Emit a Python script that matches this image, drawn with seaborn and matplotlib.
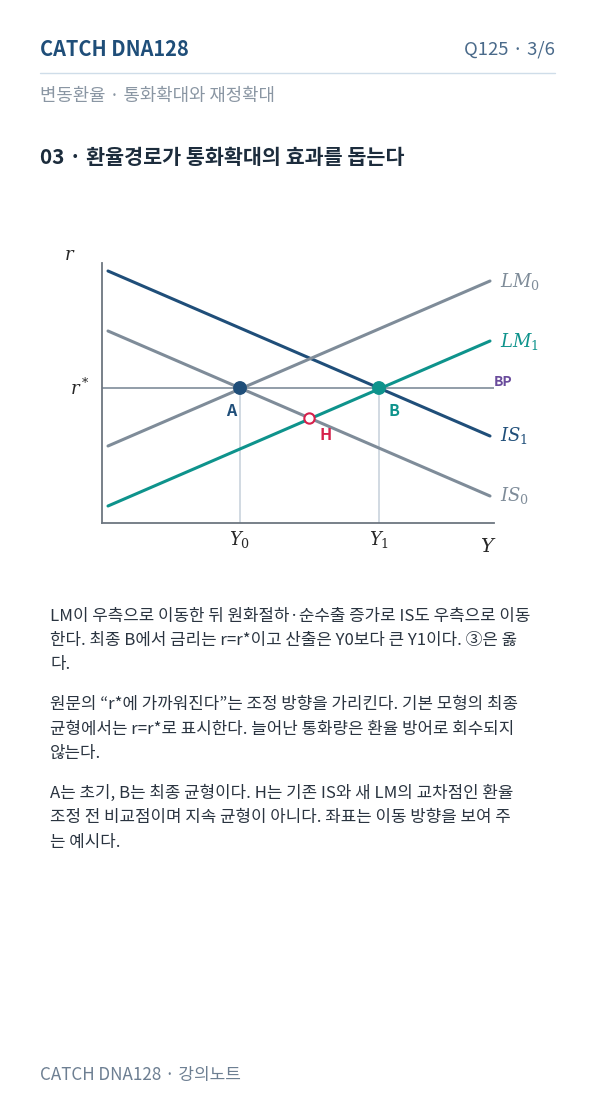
import matplotlib
matplotlib.use("Agg")
import matplotlib.pyplot as plt
import seaborn as sns
import pandas as pd

sns.set_style("white")
plt.rcParams['font.family'] = ['Noto Sans CJK KR', 'DejaVu Sans']
plt.rcParams['mathtext.fontset'] = 'dejavuserif'

# curve endpoints (Y, r) in diagram units
curve_names = ["IS1", "LM0", "IS0", "LM1"]
curve_y = [[6, 388], [6, 388], [6, 388], [6, 388]]
curve_r = [[252, 87], [77, 242], [192, 27], [17, 182]]
curve_colors = ["#1f4e79", "#7f8c99", "#7f8c99", "#0e938c"]
curve_labels = [r"$IS_1$", r"$LM_0$", r"$IS_0$", r"$LM_1$"]
r_star = 135
points_name = ["A", "B", "H"]
points_y = [138, 277, 207]
points_r = [135, 135, 105]
y_ticks = [138, 277]
y_tick_labels = [r"$Y_0$", r"$Y_1$"]

W, H = 596, 1106
fig = plt.figure(figsize=(W / 100, H / 100), dpi=100)

def ftxt(x, y, s, size, color, weight="normal", ha="left", **kw):
    fig.text(x / W, 1 - y / H, s, fontsize=size * 0.72, color=color,
             weight=weight, ha=ha, va="center", **kw)

ftxt(40, 50, "CATCH DNA128", 20, "#1f4e79", weight="bold")
ftxt(555, 50, "Q125 · 3/6", 18.5, "#4a6a8a", ha="right")
fig.add_artist(plt.Line2D([40 / W, 555 / W], [1 - 73 / H] * 2, color="#cfdde9", lw=1))
ftxt(40, 96, "변동환율 · 통화확대와 재정확대", 17.8, "#8a96a3")
ftxt(40, 157, "03 · 환율경로가 통화확대의 효과를 돕는다", 20.7, "#1c2c3c", weight="bold")

# diagram axes: pixel box x 102..494, y 263..523
ax = fig.add_axes([102 / W, 1 - 523 / H, 392 / W, 260 / H])
ax.set_xlim(0, 392)
ax.set_ylim(0, 260)
for sp in ["top", "right"]:
    ax.spines[sp].set_visible(False)
for sp in ["left", "bottom"]:
    ax.spines[sp].set_color("#6d7680")
    ax.spines[sp].set_linewidth(1.3)
ax.set_xticks([])
ax.set_yticks([])

ax.axhline(r_star, color="#7f8c99", lw=1.2, zorder=1)
for yt in y_ticks:
    ax.plot([yt, yt], [0, r_star], color="#c5d0da", lw=1.1, zorder=1)

for name, ys, rs, c in zip(curve_names, curve_y, curve_r, curve_colors):
    df = pd.DataFrame({"Y": ys, "r": rs})
    sns.lineplot(data=df, x="Y", y="r", ax=ax, color=c, lw=2.2, zorder=2)
ax.set_xlabel("")
ax.set_ylabel("")

for ys, rs, c, lab in zip(curve_y, curve_r, curve_colors, curve_labels):
    ax.text(ys[1] + 10, rs[1], lab, color=c, fontsize=13, va="center", clip_on=False)
ax.text(392, r_star + 6, "BP", color="#6a4c9c", fontsize=10, weight="bold", va="center", clip_on=False)

ax.scatter(points_y[:2], points_r[:2], s=80, c=["#1f4e79", "#0e938c"], zorder=4)
ax.scatter([points_y[2]], [points_r[2]], s=55, facecolors="white", edgecolors="#d6204b", lw=1.5, zorder=4)
ax.text(points_y[0] - 9, points_r[0] - 23, "A", color="#1f4e79", fontsize=11.5, weight="bold", ha="center", va="center")
ax.text(points_y[1] + 15, points_r[1] - 23, "B", color="#0e938c", fontsize=11.5, weight="bold", ha="center", va="center")
ax.text(points_y[2] + 17, points_r[2] - 17, "H", color="#d6204b", fontsize=11.5, weight="bold", ha="center", va="center")

for yt, lab in zip(y_ticks, y_tick_labels):
    ax.text(yt, -16, lab, fontsize=13, ha="center", va="center", clip_on=False)
ax.text(-22, r_star, r"$r^*$", fontsize=13, ha="center", va="center", clip_on=False)
ax.text(-32, 268, r"$r$", fontsize=13, ha="center", va="center", clip_on=False)
ax.text(386, -24, r"$Y$", fontsize=14, ha="center", va="center", clip_on=False)

paras = [
    ["LM이 우측으로 이동한 뒤 원화절하·순수출 증가로 IS도 우측으로 이동",
     "한다. 최종 B에서 금리는 r=r*이고 산출은 Y0보다 큰 Y1이다. ③은 옳",
     "다."],
    ["원문의 “r*에 가까워진다”는 조정 방향을 가리킨다. 기본 모형의 최종",
     "균형에서는 r=r*로 표시한다. 늘어난 통화량은 환율 방어로 회수되지",
     "않는다."],
    ["A는 초기, B는 최종 균형이다. H는 기존 IS와 새 LM의 교차점인 환율",
     "조정 전 비교점이며 지속 균형이 아니다. 좌표는 이동 방향을 보여 주",
     "는 예시다."],
]
y = 616
for p in paras:
    for line in p:
        ftxt(50, y, line, 16.8, "#2a3440")
        y += 24.5
    y += 15

ftxt(40, 1075, "CATCH DNA128 · 강의노트", 17, "#6d7f92")

fig.savefig("out.png", dpi=100)
